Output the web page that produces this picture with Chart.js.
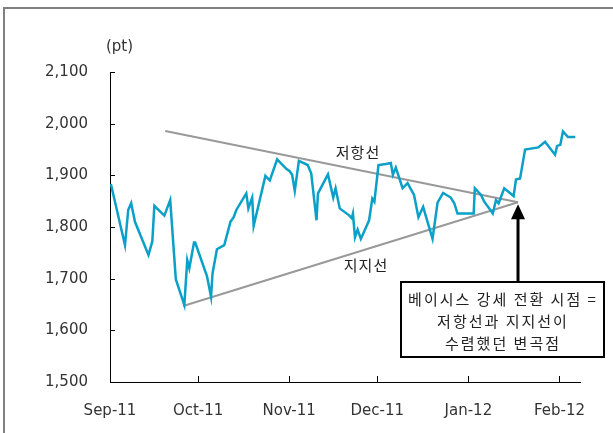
<!DOCTYPE html>
<html>
<head>
<meta charset="utf-8">
<script src="https://cdn.jsdelivr.net/npm/chart.js@4/dist/chart.umd.min.js"></script>
<style>
  html, body { margin: 0; padding: 0; background: #fff; }
  #wrap { width: 613px; height: 433px; }
</style>
</head>
<body>
<div id="wrap"><canvas id="myChart" width="613" height="433"></canvas></div>
<script>
// days counted from 1 Sep 2011
var days = [0.3, 5.1, 6.2, 7.2, 8.5, 13.1, 14.4, 15.1, 18.5, 20.5, 22.4, 25.3, 26.3, 27.0, 28.6, 29.0,
  33.0, 34.4, 34.9, 36.4, 38.9, 41.0, 42.1, 43.0, 46.4, 47.1, 48.4, 48.9, 52.9, 54.4, 56.9, 60.1,
  61.2, 62.0, 62.9, 64.3, 67.3, 68.5, 70.3, 70.8, 74.2, 76.0, 76.8, 78.2, 81.3, 82.3, 82.7, 83.4,
  84.3, 85.4, 88.2, 89.3, 90.0, 91.4, 93.9, 95.6, 96.3, 97.3, 99.6, 101.3, 103.5, 105.0, 106.6, 109.8,
  111.5, 113.4, 116.0, 117.2, 118.3, 123.8, 124.2, 126.3, 127.4, 129.1, 130.3, 131.4, 132.3, 134.2,
  137.4, 138.2, 139.6, 141.3, 145.8, 148.1, 151.5, 152.2, 153.3, 154.2, 155.9, 158.4];
var basis = [1883, 1765, 1833, 1846, 1810, 1746, 1772, 1841, 1822, 1852, 1699, 1649, 1736, 1720, 1770, 1770,
  1705, 1665, 1710, 1757, 1765, 1810, 1819, 1833, 1865, 1836, 1857, 1802, 1899, 1890, 1931, 1912,
  1908, 1901, 1870, 1928, 1920, 1904, 1813, 1865, 1902, 1857, 1875, 1836, 1823, 1817, 1826, 1780,
  1795, 1777, 1813, 1855, 1849, 1920, 1922, 1924, 1901, 1915, 1875, 1885, 1862, 1819, 1839, 1777,
  1847, 1866, 1857, 1846, 1826, 1826, 1875, 1862, 1849, 1836, 1826, 1852, 1846, 1875,
  1860, 1892, 1894, 1950, 1954, 1965, 1940, 1957, 1959, 1985, 1974, 1974];

// trend lines (저항선 / 지지선), meeting at the apex
var resistX = [18.8, 138.9];
var resistY = [1986, 1848];
var supportX = [24.9, 138.9];
var supportY = [1647, 1848];

var monthDays = [0, 30, 61, 91, 122, 153];
var monthLabels = ['Sep-11', 'Oct-11', 'Nov-11', 'Dec-11', 'Jan-12', 'Feb-12'];
var yTicks = [1500, 1600, 1700, 1800, 1900, 2000, 2100];

var boxLines = ['베이시스 강세 전환 시점 =', '저항선과 지지선이', '수렴했던 변곡점'];

function pts(xs, ys) {
  return xs.map(function (x, i) { return { x: x, y: ys[i] }; });
}

var extras = {
  id: 'extras',
  beforeDraw: function (chart) {
    var c = chart.ctx;
    c.save();
    c.fillStyle = '#fff';
    c.fillRect(0, 0, chart.width, chart.height);
    // outer frame
    c.strokeStyle = '#808080';
    c.lineWidth = 2;
    c.beginPath();
    c.moveTo(4, chart.height);
    c.lineTo(4, 8);
    c.lineTo(chart.width, 8);
    c.stroke();
    c.restore();
  },
  afterDraw: function (chart) {
    var c = chart.ctx;
    var xs = chart.scales.x, ys = chart.scales.y;
    var a = chart.chartArea;
    c.save();
    // inward tick marks
    c.strokeStyle = '#000';
    c.lineWidth = 1;
    c.beginPath();
    yTicks.forEach(function (v) {
      if (v === 1500) return;
      var y = Math.round(ys.getPixelForValue(v)) + 0.5;
      c.moveTo(a.left, y); c.lineTo(a.left + 5, y);
    });
    monthDays.forEach(function (d) {
      if (d === 0) return;
      var x = Math.round(xs.getPixelForValue(d)) + 0.5;
      c.moveTo(x, a.bottom); c.lineTo(x, a.bottom - 6);
    });
    c.stroke();

    // unit
    c.fillStyle = '#333';
    c.font = '15px "DejaVu Sans", sans-serif';
    c.textAlign = 'left';
    c.textBaseline = 'middle';
    c.fillText('(pt)', 106, 47);

    // line labels
    c.font = '15px "Noto Sans CJK KR", sans-serif';
    c.fillStyle = '#222';
    c.textAlign = 'center';
    c.letterSpacing = '1px';
    c.fillText('저항선', 358, 152);
    c.fillText('지지선', 366, 265);

    // arrow from box to apex
    var ax = xs.getPixelForValue(resistX[1]);
    var ay = ys.getPixelForValue(resistY[1]) + 2;
    c.strokeStyle = '#000';
    c.lineWidth = 3;
    c.beginPath();
    c.moveTo(ax, 283);
    c.lineTo(ax, ay + 12);
    c.stroke();
    c.fillStyle = '#000';
    c.beginPath();
    c.moveTo(ax, ay);
    c.lineTo(ax - 7, ay + 15);
    c.lineTo(ax + 7, ay + 15);
    c.closePath();
    c.fill();

    // note box
    c.fillStyle = '#fff';
    c.fillRect(401, 282, 203, 75);
    c.strokeStyle = '#000';
    c.lineWidth = 2;
    c.strokeRect(401, 282, 203, 75);
    c.fillStyle = '#222';
    c.font = '15px "Noto Sans CJK KR", sans-serif';
    c.letterSpacing = '2px';
    boxLines.forEach(function (t, i) {
      c.fillText(t, 503, 299 + i * 22);
    });
    c.restore();
  }
};

var ctx = document.getElementById('myChart').getContext('2d');
var myChart = new Chart(ctx, {
  type: 'line',
  data: {
    datasets: [{
      label: 'basis',
      data: pts(days, basis),
      borderColor: '#0AA0C8',
      borderWidth: 2.5,
      pointRadius: 0,
      tension: 0,
      order: 0
    }, {
      label: 'resist',
      data: pts(resistX, resistY),
      borderColor: '#999999',
      borderWidth: 2,
      pointRadius: 0,
      order: 1
    }, {
      label: 'support',
      data: pts(supportX, supportY),
      borderColor: '#999999',
      borderWidth: 2,
      pointRadius: 0,
      order: 1
    }]
  },
  options: {
    responsive: false,
    animation: false,
    events: [],
    layout: { padding: { left: 0, right: 33, top: 72, bottom: 0 } },
    plugins: { legend: { display: false }, tooltip: { enabled: false } },
    scales: {
      x: {
        type: 'linear',
        min: 0,
        max: 160,
        grid: { display: false, drawTicks: false },
        border: { display: true, color: '#000', width: 1 },
        afterBuildTicks: function (s) {
          s.ticks = monthDays.map(function (d) { return { value: d }; });
        },
        afterFit: function (s) { s.height = 51; },
        ticks: {
          autoSkip: false,
          maxRotation: 0,
          padding: 20,
          color: '#333',
          font: { family: '"DejaVu Sans", sans-serif', size: 15 },
          callback: function (v) {
            var i = monthDays.indexOf(v);
            return i >= 0 ? monthLabels[i] : '';
          }
        }
      },
      y: {
        min: 1500,
        max: 2100,
        grid: { display: false, drawTicks: false },
        border: { display: true, color: '#000', width: 1 },
        afterBuildTicks: function (s) {
          s.ticks = yTicks.map(function (v) { return { value: v }; });
        },
        afterFit: function (s) { s.width = 110; },
        ticks: {
          padding: 22,
          color: '#333',
          font: { family: '"DejaVu Sans", sans-serif', size: 15 },
          callback: function (v) { return v.toLocaleString('en-US'); }
        }
      }
    }
  },
  plugins: [extras]
});
</script>
</body>
</html>
